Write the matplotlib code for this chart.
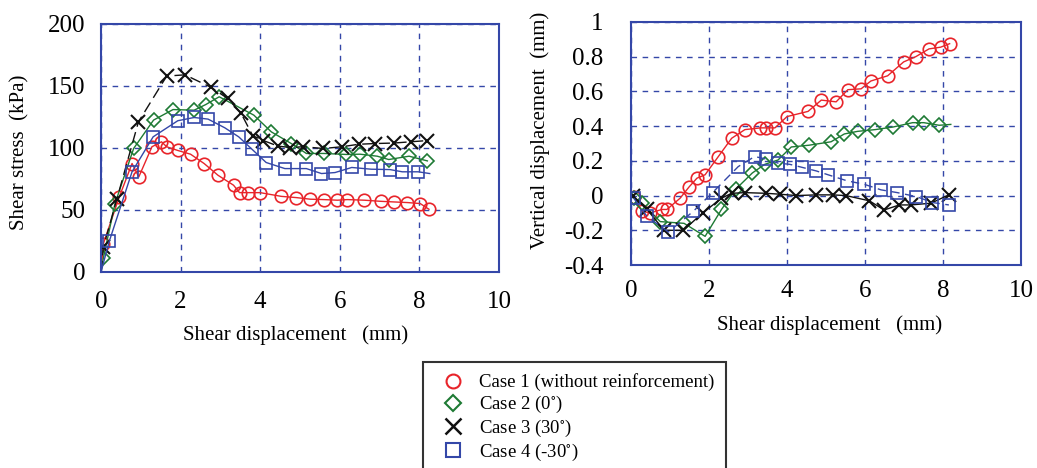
import matplotlib
matplotlib.use("Agg")
import matplotlib.pyplot as plt
from matplotlib.lines import Line2D

plt.rcParams['font.family'] = ['Liberation Serif', 'DejaVu Serif']
plt.rcParams['mathtext.fontset'] = 'stix'

# ---------------- data: shear stress (kPa) vs shear displacement (mm) ----------------
c1_sx = [0.0, 0.06, 0.46, 0.78, 0.95, 1.28, 1.52, 1.65, 1.93, 2.25, 2.59, 2.94, 3.33, 3.48, 3.69, 4.0,
         4.53, 4.91, 5.26, 5.6, 5.94, 6.19, 6.62, 7.03, 7.36, 7.7, 8.02, 8.24]
c1_sy = [0, 22.9, 60.6, 87.5, 76.7, 101, 105, 101, 98, 95, 87.5, 78, 70, 64, 64, 64,
         61, 60, 58.7, 58.4, 57.9, 58.4, 57.9, 57, 56.5, 56, 55.2, 50.6]

c2_sx = [0.0, 0.06, 0.35, 0.82, 1.32, 1.81, 2.34, 2.63, 2.97, 3.84, 4.28, 4.78, 5.16, 5.6, 6.16,
         6.51, 6.94, 7.23, 7.74, 8.2]
c2_sy = [0, 11.3, 55, 99.6, 122.5, 131, 130.5, 135, 141.3, 126.5, 113, 103.6, 95.6, 95.6, 94.8,
         95, 93.4, 90.7, 93.4, 89.6]

c3_sx = [0.0, 0.06, 0.4, 0.94, 1.65, 2.11, 2.76, 3.18, 3.52, 3.81, 4.08, 4.45, 4.76, 5.08, 5.59,
         6.05, 6.47, 6.88, 7.36, 7.78, 8.2]
c3_sy = [0, 20, 59, 121, 158, 159, 149, 140, 128, 110, 106, 101.5, 100.4, 101, 99.6,
         101, 103, 103.6, 104, 105, 106]

c4_sx = [0.0, 0.21, 0.78, 1.31, 1.93, 2.34, 2.69, 3.11, 3.46, 3.8, 4.15, 4.62, 5.16, 5.54, 5.88,
         6.3, 6.79, 7.26, 7.57, 7.97, 8.26]
c4_sy = [0, 25, 80.8, 109, 122, 124.6, 123.3, 116.3, 109, 98.8, 88.3, 83.4, 83.4, 79.4, 80.2,
         84.3, 82.9, 82.6, 80.8, 80.8, 79.4]

# ---------------- data: vertical displacement (mm) vs shear displacement (mm) ----------------
c1_vx = [0.07, 0.28, 0.49, 0.79, 0.92, 1.26, 1.49, 1.69, 1.9, 2.24, 2.58, 2.92, 3.32, 3.47, 3.69,
         4.0, 4.54, 4.88, 5.26, 5.56, 5.9, 6.15, 6.58, 6.99, 7.3, 7.64, 7.94, 8.17]
c1_vy = [-0.006, -0.09, -0.1, -0.08, -0.08, -0.015, 0.05, 0.1, 0.12, 0.225, 0.33, 0.38, 0.39, 0.39, 0.39,
         0.455, 0.485, 0.55, 0.54, 0.61, 0.615, 0.66, 0.69, 0.77, 0.8, 0.845, 0.855, 0.875]

c2_vx = [0.07, 0.28, 0.75, 1.36, 1.9, 2.32, 2.7, 3.11, 3.43, 3.77, 4.11, 4.56, 5.13, 5.47, 5.81,
         6.26, 6.72, 7.22, 7.51, 7.9]
c2_vy = [-0.015, -0.045, -0.15, -0.16, -0.235, -0.08, 0.04, 0.13, 0.18, 0.205, 0.28, 0.29, 0.31, 0.355, 0.37,
         0.38, 0.395, 0.42, 0.42, 0.405]
c2_vx_end, c2_vy_end = 8.2, 0.41

c3_vx = [0.05, 0.41, 0.85, 1.34, 1.84, 2.32, 2.58, 2.92, 3.47, 3.81, 4.24, 4.75, 5.17, 5.51, 6.11,
         6.49, 6.88, 7.17, 7.69, 8.15]
c3_vy = [-0.005, -0.08, -0.2, -0.2, -0.1, -0.015, 0.013, 0.017, 0.013, 0.008, 0.0, 0.004, 0.004, 0.0, -0.03,
         -0.083, -0.054, -0.054, -0.044, 0.004]

c4_vx = [0.07, 0.41, 0.96, 1.6, 2.09, 2.75, 3.17, 3.47, 3.77, 4.07, 4.38, 4.75, 5.05, 5.54, 5.98,
         6.41, 6.83, 7.32, 7.73, 8.15]
c4_vy = [-0.015, -0.12, -0.21, -0.09, 0.017, 0.167, 0.225, 0.21, 0.187, 0.18, 0.163, 0.142, 0.12, 0.085, 0.065,
         0.033, 0.017, -0.006, -0.04, -0.054]

legend_labels = ['Case 1 (without reinforcement)', r'Case 2 (0$^{\circ}$)',
                 r'Case 3 (30$^{\circ}$)', r'Case 4 (-30$^{\circ}$)']

RED = '#e8242a'
GREEN = '#1e7a34'
BLACK = '#111111'
BLUE = '#3447a8'
GRID = '#3447a8'

fig = plt.figure(figsize=(10.37, 4.68), dpi=100)
axL = fig.add_axes([101/1037, 1-272/468, 398/1037, 248/468])
axR = fig.add_axes([631/1037, 1-265/468, 390/1037, 243/468])

ms = 9
# left panel
axL.plot(c1_sx, c1_sy, '-', color=RED, lw=1.0, marker='o', ms=ms, mfc='none', mec=RED, mew=1.2,
         markevery=list(range(1, len(c1_sx))))
axL.plot(c2_sx, c2_sy, '-', color=GREEN, lw=1.0, marker='D', ms=7, mfc='none', mec=GREEN, mew=1.2,
         markevery=list(range(1, len(c2_sx))))
axL.plot(c3_sx, c3_sy, '--', color=BLACK, lw=1.0, dashes=(8, 4), marker='x', ms=10, mec=BLACK, mew=1.5,
         markevery=list(range(1, len(c3_sx))))
axL.plot(c4_sx, c4_sy, '-', color=BLUE, lw=1.0, marker='s', ms=ms, mfc='none', mec=BLUE, mew=1.2,
         markevery=list(range(1, len(c4_sx) - 1)))

# right panel
axR.plot(c1_vx, c1_vy, '-', color=RED, lw=1.0, marker='o', ms=ms, mfc='none', mec=RED, mew=1.2)
axR.plot(c2_vx + [c2_vx_end], c2_vy + [c2_vy_end], '-', color=GREEN, lw=1.0, marker='D', ms=7, mfc='none',
         mec=GREEN, mew=1.2, markevery=list(range(len(c2_vx))))
axR.plot(c3_vx, c3_vy, '-', color=BLACK, lw=1.0, marker='x', ms=10, mec=BLACK, mew=1.5)
axR.plot(c4_vx, c4_vy, '--', color=BLUE, lw=1.0, dashes=(6, 4), marker='s', ms=ms, mfc='none', mec=BLUE, mew=1.2)

for ax in (axL, axR):
    ax.set_xlim(0, 10)
    ax.set_xticks([0, 2, 4, 6, 8, 10])
    ax.grid(True, color=GRID, linestyle=(0, (4, 4)), linewidth=1.0)
    for s in ax.spines.values():
        s.set_color(GRID)
        s.set_linewidth(1.5)
    ax.tick_params(length=0, labelsize=18)

axL.set_ylim(0, 200)
axL.set_yticks([0, 50, 100, 150, 200])
axL.tick_params(axis='y', pad=11)
axL.tick_params(axis='x', pad=14)

axR.set_ylim(-0.4, 1.0)
axR.set_yticks([-0.4, -0.2, 0, 0.2, 0.4, 0.6, 0.8, 1.0])
axR.set_yticklabels(['-0.4', '-0.2', '0', '0.2', '0.4', '0.6', '0.8', '1'])
axR.tick_params(axis='y', pad=20)
axR.tick_params(axis='x', pad=11)

axL.set_ylabel('Shear stress  (kPa)', fontsize=15)
axL.yaxis.set_label_coords(-0.2035, 0.484)
axL.yaxis.label.set_va('center')
axL.set_xlabel('Shear displacement   (mm)', fontsize=15)
axL.xaxis.set_label_coords(0.49, -0.254)
axL.xaxis.label.set_va('center')

axR.set_ylabel('Vertical displacement  (mm)', fontsize=15)
axR.yaxis.set_label_coords(-0.233, 0.555)
axR.yaxis.label.set_va('center')
axR.set_xlabel('Shear displacement   (mm)', fontsize=15)
axR.xaxis.set_label_coords(0.51, -0.247)
axR.xaxis.label.set_va('center')

handles = [
    Line2D([], [], ls='none', marker='o', ms=10, mfc='none', mec=RED, mew=1.5),
    Line2D([], [], ls='none', marker='D', ms=8, mfc='none', mec=GREEN, mew=1.5),
    Line2D([], [], ls='none', marker='x', ms=11, mec=BLACK, mew=1.8),
    Line2D([], [], ls='none', marker='s', ms=10, mfc='none', mec=BLUE, mew=1.5),
]
leg = fig.legend(handles, legend_labels, loc='upper left', bbox_to_anchor=(423/1037, 1-362/468),
                 frameon=True, fancybox=False, edgecolor='black', fontsize=13.5, handlelength=2.0,
                 handletextpad=0.4, labelspacing=0.15, borderpad=0.6, borderaxespad=0.0)
leg.get_frame().set_linewidth(1.5)

fig.savefig('out.png', dpi=100)
